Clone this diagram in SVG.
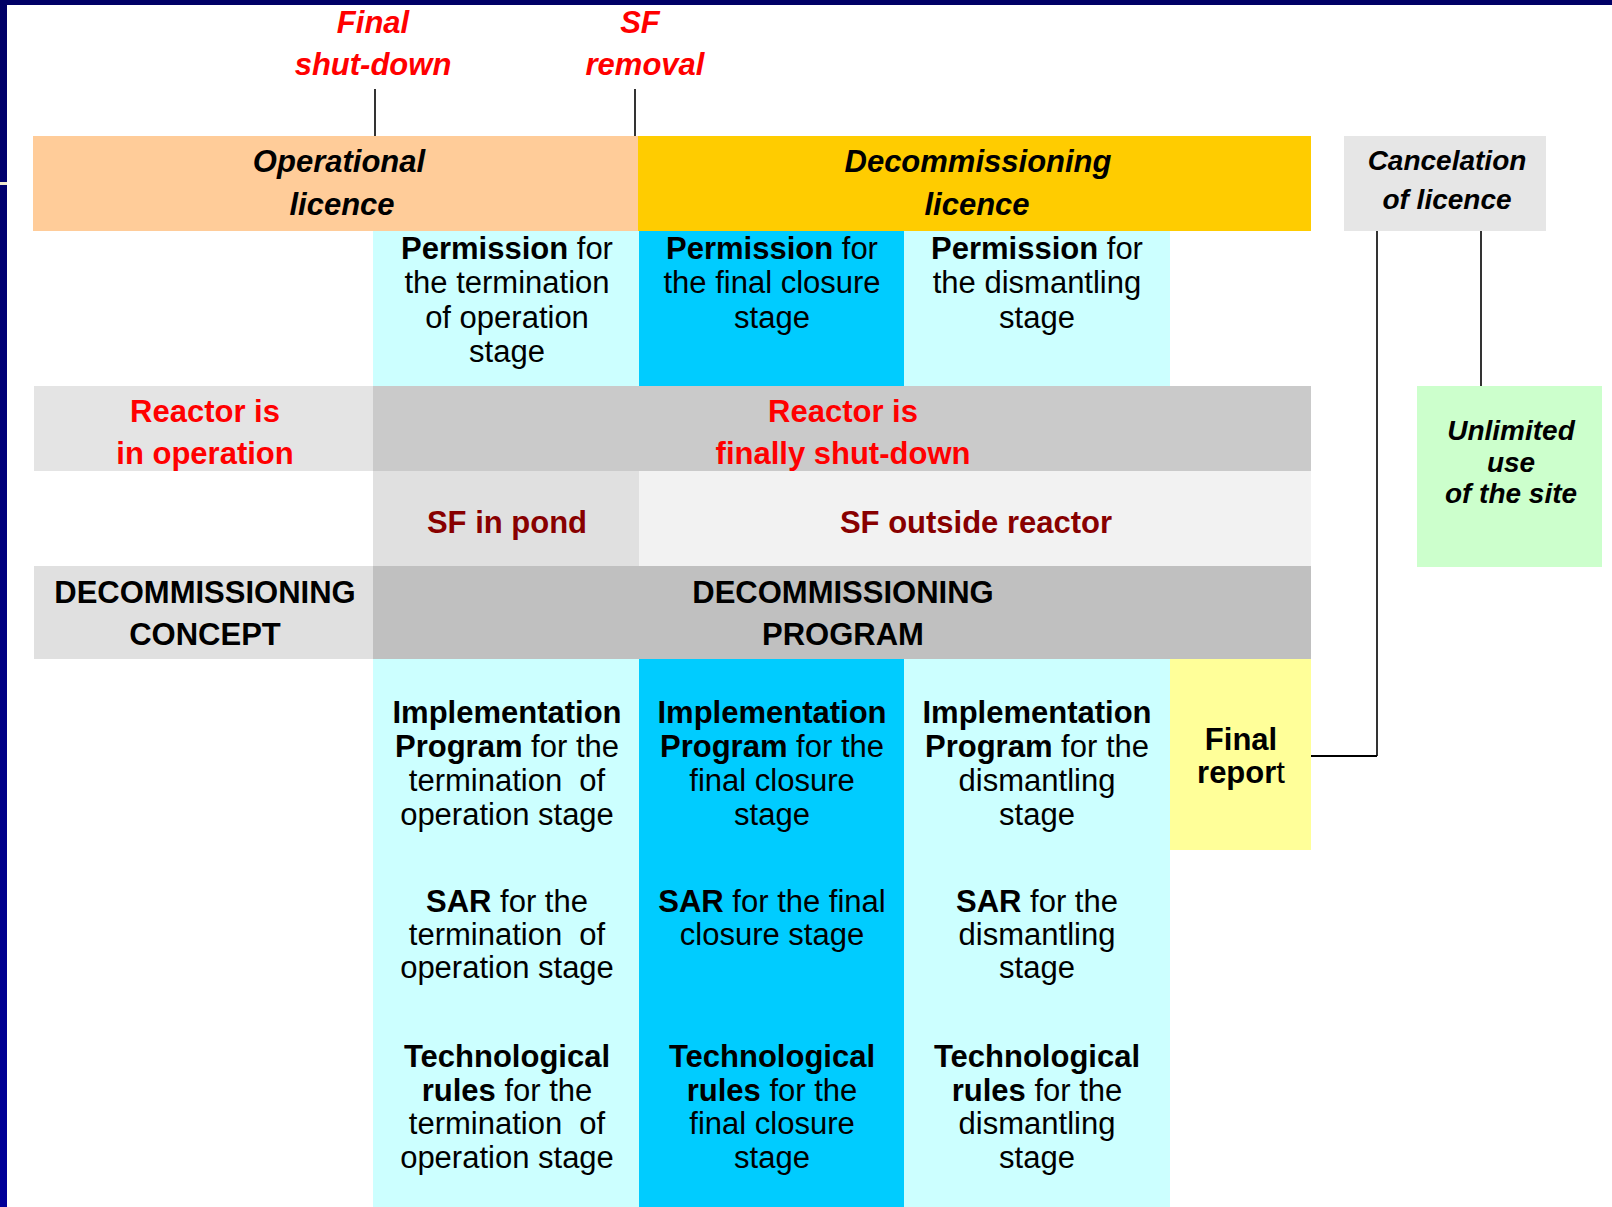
<svg xmlns="http://www.w3.org/2000/svg" width="1612" height="1207" viewBox="0 0 1612 1207">
<defs>
<linearGradient id="navy" x1="0" y1="0" x2="0" y2="1">
<stop offset="0" stop-color="#000066"/>
<stop offset="1" stop-color="#000099"/>
</linearGradient>
</defs>
<style>
text{font-family:"Liberation Sans",Arial,sans-serif;text-anchor:middle;font-size:31px;fill:#000}
.bi{font-weight:bold;font-style:italic}
.b{font-weight:bold}
.red{fill:#ff0000;font-weight:bold}
.dred{fill:#880000;font-weight:bold}
.sm{font-size:28px}
.ln{stroke:#000;stroke-width:1.6;fill:none}
</style>
<rect x="0" y="0" width="1612" height="1207" fill="#ffffff"/>
<rect x="0" y="0" width="1612" height="5" fill="#000066"/>
<rect x="0" y="0" width="7" height="1207" fill="url(#navy)"/>
<rect x="0" y="182" width="7" height="3" fill="#efe8cc"/>

<g id="connectors">
<line class="ln" x1="375" y1="89" x2="375" y2="136"/>
<line class="ln" x1="635" y1="89" x2="635" y2="136"/>
<line class="ln" x1="1377" y1="231" x2="1377" y2="756"/>
<line class="ln" x1="1311" y1="756" x2="1377" y2="756" style="stroke-width:2.2"/>
<line class="ln" x1="1481" y1="231" x2="1481" y2="386"/>
</g>

<g id="final-shutdown">
<text class="red" style="font-style:italic" x="373" y="33">Final</text>
<text class="red" style="font-style:italic" x="373" y="75">shut-down</text>
</g>
<g id="sf-removal">
<text class="red" style="font-style:italic" x="640" y="33">SF</text>
<text class="red" style="font-style:italic" x="645" y="75">removal</text>
</g>

<g id="operational-licence">
<rect x="33" y="136" width="606" height="95" fill="#ffcc99"/>
<text class="bi" x="339" y="172">Operational</text>
<text class="bi" x="342" y="215">licence</text>
</g>
<g id="decommissioning-licence">
<rect x="638" y="136" width="673" height="95" fill="#ffcc00"/>
<text class="bi" x="978" y="172">Decommissioning</text>
<text class="bi" x="977" y="215">licence</text>
</g>
<g id="cancelation">
<rect x="1344" y="136" width="202" height="95" fill="#e6e6e6"/>
<text class="bi sm" x="1447" y="170">Cancelation</text>
<text class="bi sm" x="1447" y="209">of licence</text>
</g>

<g id="perm-termination">
<rect x="373" y="231" width="266" height="155" fill="#ccffff"/>
<text x="507" y="259"><tspan class="b">Permission</tspan> for</text>
<text x="507" y="293">the termination</text>
<text x="507" y="328">of operation</text>
<text x="507" y="362">stage</text>
</g>
<g id="perm-closure">
<rect x="639" y="231" width="265" height="155" fill="#00ccff"/>
<text x="772" y="259"><tspan class="b">Permission</tspan> for</text>
<text x="772" y="293">the final closure</text>
<text x="772" y="328">stage</text>
</g>
<g id="perm-dismantling">
<rect x="904" y="231" width="266" height="155" fill="#ccffff"/>
<text x="1037" y="259"><tspan class="b">Permission</tspan> for</text>
<text x="1037" y="293">the dismantling</text>
<text x="1037" y="328">stage</text>
</g>

<g id="reactor-operation">
<rect x="34" y="386" width="339" height="85" fill="#e4e4e4"/>
<text class="red" x="205" y="422">Reactor is</text>
<text class="red" x="205" y="464">in operation</text>
</g>
<g id="reactor-shutdown">
<rect x="373" y="386" width="938" height="85" fill="#cacaca"/>
<text class="red" x="843" y="422">Reactor is</text>
<text class="red" x="843" y="464">finally shut-down</text>
</g>

<g id="sf-pond">
<rect x="373" y="471" width="266" height="95" fill="#e0e0e0"/>
<text class="dred" x="507" y="533">SF in pond</text>
</g>
<g id="sf-outside">
<rect x="639" y="471" width="672" height="95" fill="#f2f2f2"/>
<text class="dred" x="976" y="533">SF outside reactor</text>
</g>

<g id="decom-concept">
<rect x="34" y="566" width="339" height="93" fill="#e0e0e0"/>
<text class="b" x="205" y="603">DECOMMISSIONING</text>
<text class="b" x="205" y="645">CONCEPT</text>
</g>
<g id="decom-program">
<rect x="373" y="566" width="938" height="93" fill="#c0c0c0"/>
<text class="b" x="843" y="603">DECOMMISSIONING</text>
<text class="b" x="843" y="645">PROGRAM</text>
</g>

<g id="col-termination">
<rect x="373" y="659" width="266" height="548" fill="#ccffff"/>
</g>
<g id="col-closure">
<rect x="639" y="659" width="265" height="548" fill="#00ccff"/>
</g>
<g id="col-dismantling">
<rect x="904" y="659" width="266" height="548" fill="#ccffff"/>
</g>

<g id="impl-termination">
<text class="b" x="507" y="723">Implementation</text>
<text x="507" y="757"><tspan class="b">Program</tspan> for the</text>
<text x="507" y="791" xml:space="preserve">termination  of</text>
<text x="507" y="825">operation stage</text>
</g>
<g id="impl-closure">
<text class="b" x="772" y="723">Implementation</text>
<text x="772" y="757"><tspan class="b">Program</tspan> for the</text>
<text x="772" y="791">final closure</text>
<text x="772" y="825">stage</text>
</g>
<g id="impl-dismantling">
<text class="b" x="1037" y="723">Implementation</text>
<text x="1037" y="757"><tspan class="b">Program</tspan> for the</text>
<text x="1037" y="791">dismantling</text>
<text x="1037" y="825">stage</text>
</g>

<g id="final-report">
<rect x="1170" y="659" width="141" height="191" fill="#ffff99"/>
<text class="b" x="1241" y="750">Final</text>
<text x="1241" y="783"><tspan class="b">repor</tspan>t</text>
</g>

<g id="sar-termination">
<text x="507" y="912"><tspan class="b">SAR</tspan> for the</text>
<text x="507" y="945" xml:space="preserve">termination  of</text>
<text x="507" y="978">operation stage</text>
</g>
<g id="sar-closure">
<text x="772" y="912"><tspan class="b">SAR</tspan> for the final</text>
<text x="772" y="945">closure stage</text>
</g>
<g id="sar-dismantling">
<text x="1037" y="912"><tspan class="b">SAR</tspan> for the</text>
<text x="1037" y="945">dismantling</text>
<text x="1037" y="978">stage</text>
</g>

<g id="tech-termination">
<text class="b" x="507" y="1067">Technological</text>
<text x="507" y="1101"><tspan class="b">rules</tspan> for the</text>
<text x="507" y="1134" xml:space="preserve">termination  of</text>
<text x="507" y="1168">operation stage</text>
</g>
<g id="tech-closure">
<text class="b" x="772" y="1067">Technological</text>
<text x="772" y="1101"><tspan class="b">rules</tspan> for the</text>
<text x="772" y="1134">final closure</text>
<text x="772" y="1168">stage</text>
</g>
<g id="tech-dismantling">
<text class="b" x="1037" y="1067">Technological</text>
<text x="1037" y="1101"><tspan class="b">rules</tspan> for the</text>
<text x="1037" y="1134">dismantling</text>
<text x="1037" y="1168">stage</text>
</g>

<g id="unlimited-use">
<rect x="1417" y="386" width="185" height="181" fill="#ccffcc"/>
<text class="bi sm" x="1511" y="440">Unlimited</text>
<text class="bi sm" x="1511" y="472">use</text>
<text class="bi sm" x="1511" y="503">of the site</text>
</g>
</svg>
